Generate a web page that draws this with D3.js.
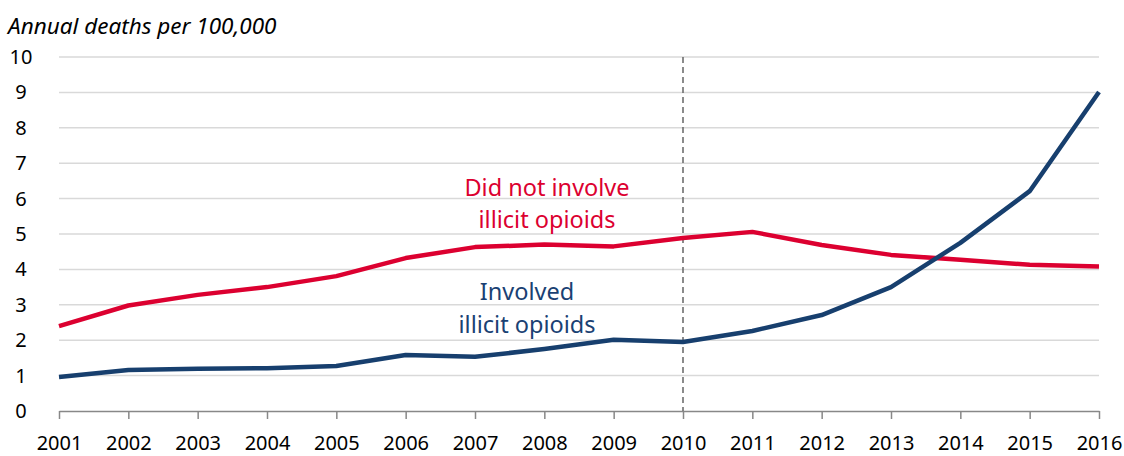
<!DOCTYPE html>
<html><head><meta charset="utf-8">
<script src="https://cdn.jsdelivr.net/npm/d3@7"></script>
<style>
body{margin:0;background:#fff;}
svg{display:block;font-family:"Source Sans Pro","Noto Sans","Open Sans",sans-serif;}
</style></head>
<body><svg id="c" width="1124" height="456"></svg>
<script>
const years = [2001,2002,2003,2004,2005,2006,2007,2008,2009,2010,2011,2012,2013,2014,2015,2016];
const notIllicit = [2.40,2.98,3.28,3.50,3.81,4.32,4.63,4.70,4.65,4.89,5.06,4.69,4.41,4.27,4.13,4.08];
const illicit = [0.96,1.16,1.19,1.21,1.27,1.58,1.53,1.75,2.01,1.95,2.26,2.71,3.50,4.75,6.21,9.01];
const yTicks = [0,1,2,3,4,5,6,7,8,9,10];
const markerYear = 2010;

const svg = d3.select("#c");
const x = d3.scaleLinear().domain([2001,2016]).range([59,1099]);
const y = d3.scaleLinear().domain([0,10]).range([411,57]);

// gridlines
svg.append("g").selectAll("line").data(yTicks.filter(d=>d>0)).join("line")
  .attr("x1",x(2001)).attr("x2",x(2016))
  .attr("y1",d=>y(d)).attr("y2",d=>y(d))
  .attr("stroke","#d9d9d9").attr("stroke-width",1.5);

// y labels
svg.append("g").selectAll("text").data(yTicks).join("text")
  .attr("x",21).attr("y",d=>y(d)+7)
  .attr("text-anchor","middle").attr("font-size",20).attr("fill","#000")
  .text(d=>d);

// x axis
const xAxis = d3.axisBottom(x).tickValues(years).tickFormat(d3.format("d")).tickSize(8).tickSizeOuter(0);
const gx = svg.append("g").attr("transform",`translate(0,${y(0)})`).call(xAxis);
gx.select(".domain").attr("stroke","#888").attr("stroke-width",1.5);
gx.selectAll(".tick line").attr("stroke","#888").attr("stroke-width",1.5);
gx.selectAll(".tick text").attr("font-size",20).attr("fill","#000").attr("dy","1.42em")
  .attr("font-family","'Source Sans Pro','Noto Sans','Open Sans',sans-serif");

// dashed marker
svg.append("line").attr("x1",x(markerYear)).attr("x2",x(markerYear))
  .attr("y1",y(10)).attr("y2",y(0))
  .attr("stroke","#666").attr("stroke-width",1.5).attr("stroke-dasharray","6,4");

const line = d3.line().x((d,i)=>x(years[i])).y(d=>y(d));
svg.append("path").datum(notIllicit).attr("d",line).attr("fill","none")
  .attr("stroke","#dc0030").attr("stroke-width",4.5).attr("stroke-linejoin","round");
svg.append("path").datum(illicit).attr("d",line).attr("fill","none")
  .attr("stroke","#173f6e").attr("stroke-width",4.5).attr("stroke-linejoin","round");

// labels
const lab = (t,cx,by,col)=>svg.append("text").attr("x",cx).attr("y",by).attr("text-anchor","middle")
  .attr("font-size",23.5).attr("fill",col).text(t);
lab("Did not involve",547,196,"#dc0030");
lab("illicit opioids",547,228,"#dc0030");
lab("Involved",527,300,"#1a4173");
lab("illicit opioids",527,333,"#1a4173");

svg.append("text").attr("x",8).attr("y",34).attr("font-size",22.5).attr("font-style","italic")
  .attr("fill","#000").text("Annual deaths per 100,000");
</script></body></html>
